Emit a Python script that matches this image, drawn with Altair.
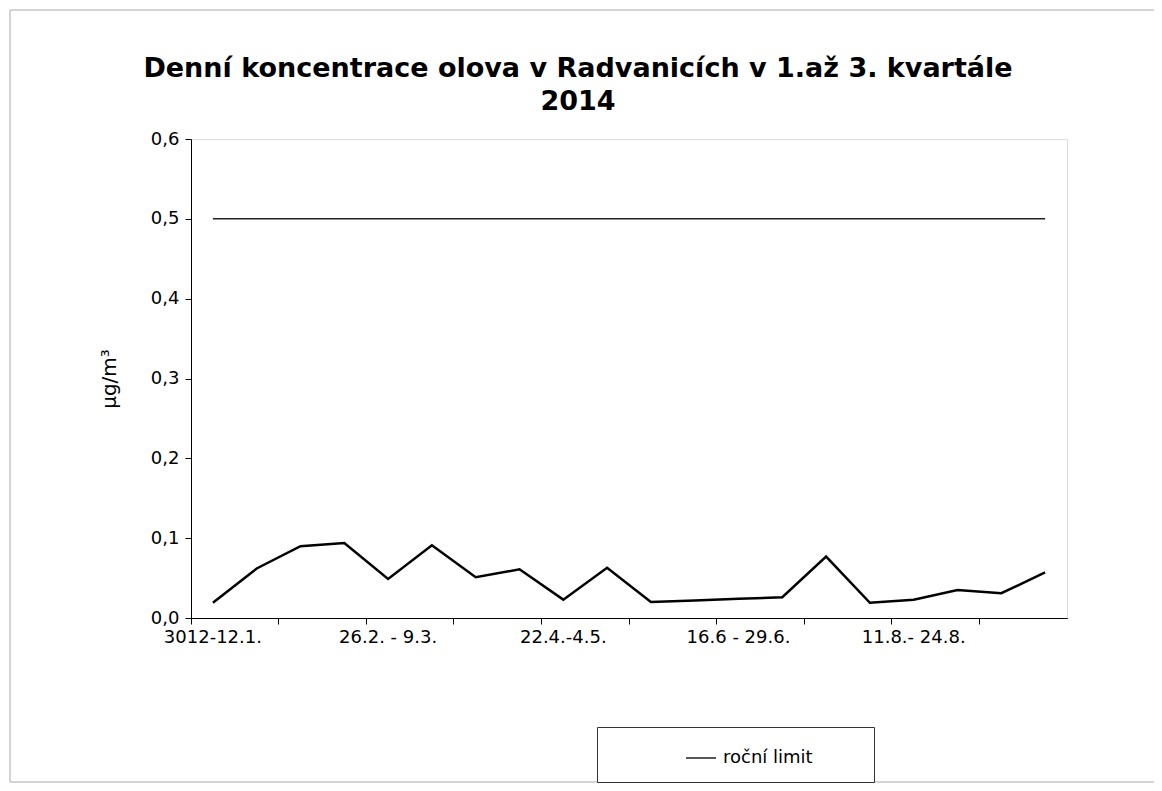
import altair as alt
import pandas as pd

categories = [
    "3012-12.1.", "13.1. - 26.1.", "27.1. - 9.2.", "10.2. - 25.2.",
    "26.2. - 9.3.", "10.3. - 23.3.", "24.3. - 6.4.", "7.4. - 21.4.",
    "22.4.-4.5.", "5.5. - 18.5.", "19.5. - 1.6.", "2.6. - 15.6.",
    "16.6 - 29.6.", "30.6. - 13.7.", "14.7. - 27.7.", "28.7. - 10.8.",
    "11.8.- 24.8.", "25.8. - 7.9.", "8.9. - 21.9.", "22.9. - 30.9.",
]
concentration = [0.019, 0.062, 0.090, 0.094, 0.049, 0.091, 0.051, 0.061,
                 0.023, 0.063, 0.020, 0.022, 0.024, 0.026, 0.077, 0.019,
                 0.023, 0.035, 0.031, 0.057]
limit_values = [0.5] * 20
limit_name = "roční limit"
label_categories = categories[0::4]
tick_categories = categories[0::2]
y_ticks = [0, 0.1, 0.2, 0.3, 0.4, 0.5, 0.6]

df = pd.DataFrame({"cat": categories, "value": concentration})
df_lim = pd.DataFrame({"cat": categories, "limit": limit_values,
                       "series": [limit_name] * len(categories)})

FONT = "DejaVu Sans"

xscale = alt.Scale(type="band", paddingInner=0, paddingOuter=0, domain=categories)

y_axis = alt.Axis(values=y_ticks, labelExpr="replace(format(datum.value, '.1f'), '.', ',')",
                  title="µg/m³", titleFont=FONT, titleFontSize=20, titleFontWeight="normal",
                  titlePadding=31, labelFont=FONT, labelFontSize=18, labelPadding=6,
                  tickSize=6, tickColor="black", domainColor="black", labelColor="black",
                  titleColor="black", grid=False)

label_axis = alt.Axis(values=label_categories, orient="bottom", ticks=False, labelAngle=0,
                      labelFont=FONT, labelFontSize=18, labelPadding=10, labelColor="black",
                      domainColor="black", title=None, labelOverlap=False, grid=False)
tick_axis = alt.Axis(values=tick_categories, orient="bottom", labels=False, tickSize=6,
                     tickColor="black", bandPosition=0, domainColor="black", title=None,
                     grid=False)

pad_label = "datum.label + '" + "\u00a0" * 8 + "\u200b'"

conc = alt.Chart(df).mark_line(color="black", strokeWidth=2.5).encode(
    x=alt.X("cat:N", sort=categories, scale=xscale, axis=label_axis),
    y=alt.Y("value:Q", scale=alt.Scale(domain=[0, 0.6]), axis=y_axis),
)

lim = alt.Chart(df_lim).mark_line(strokeWidth=1.5).encode(
    x=alt.X("cat:N", sort=categories, scale=xscale, axis=tick_axis),
    y=alt.Y("limit:Q", scale=alt.Scale(domain=[0, 0.6]), axis=y_axis),
    color=alt.Color("series:N", scale=alt.Scale(domain=[limit_name], range=["#222222"]),
                    legend=alt.Legend(orient="none", legendX=406, legendY=588, padding=15,
                                      symbolType="stroke", symbolSize=900,
                                      symbolStrokeWidth=1.5, symbolOffset=73,
                                      labelOffset=6, labelFont=FONT, labelFontSize=18,
                                      labelColor="black", strokeColor="#333333",
                                      fillColor="white", title=None,
                                      labelExpr=pad_label)),
)

frame = alt.Chart(pd.DataFrame({"a": [0]})).mark_rect(
    fill=None, stroke="#aaaaaa", strokeWidth=1).encode(
    x=alt.value(-181), x2=alt.value(969), y=alt.value(-129), y2=alt.value(643))

chart = alt.layer(frame, lim, conc).resolve_axis(x="independent").properties(
    width=876, height=479,
    title=alt.TitleParams(
        text=["Denní koncentrace olova v Radvanicích v 1.až 3. kvartále", "2014"],
        font=FONT, fontSize=27, fontWeight="bold", lineHeight=33, dx=-51, offset=-106,
        anchor="middle", color="black"),
    autosize=alt.AutoSizeParams(type="none"),
    padding={"left": 183, "top": 131, "right": 87, "bottom": 165},
).configure_view(stroke="#888888").configure(background="white")

chart.save("out.html", embed_options={"renderer": "svg", "actions": False})
